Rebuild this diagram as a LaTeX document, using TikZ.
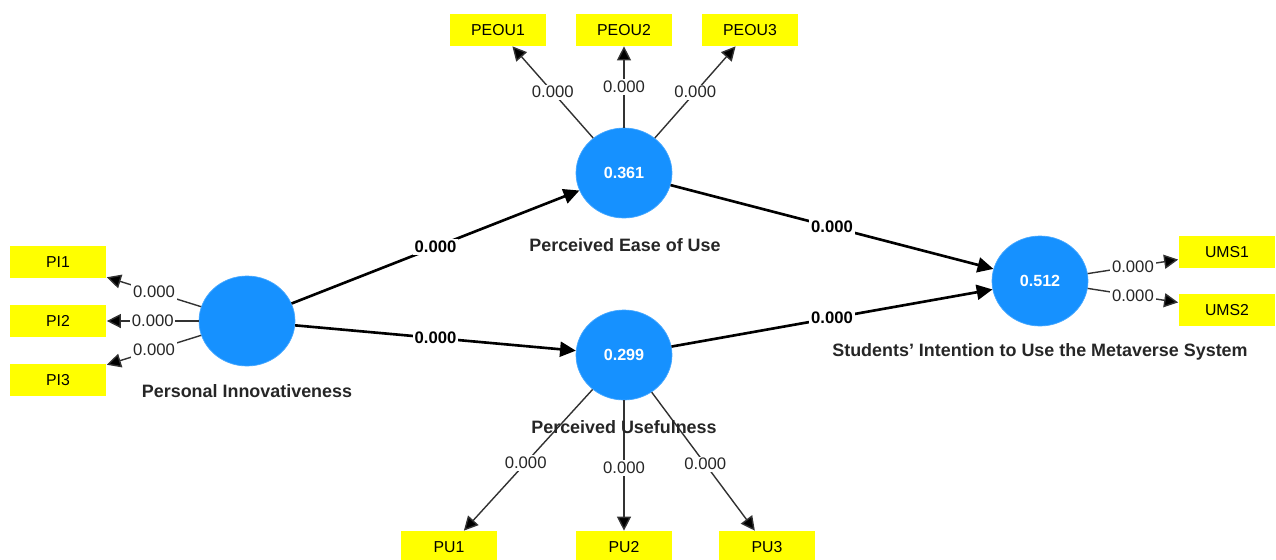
\documentclass[tikz,border=0pt]{standalone}
\usepackage{fontspec}
\setmainfont{Liberation Sans}
\usepackage{tikz}
\usetikzlibrary{
  shapes.geometric,
  arrows.meta,
  positioning
}
\definecolor{plsblue}{RGB}{22,145,255}
\definecolor{plsyellow}{RGB}{255,255,0}
\definecolor{plsgray}{RGB}{50,50,50}
\tikzset{
  latent/.style={
    ellipse, fill=plsblue, draw=plsblue!80!white, thin,
    minimum width=1.92cm, minimum height=1.8cm, inner sep=0pt,
    text=white, font=\fontsize{9.2}{10}\selectfont\bfseries
  },
  indicator/.style={
    rectangle, fill=plsyellow, minimum width=1.94cm,
    minimum height=0.64cm, inner sep=0pt,
    font=\fontsize{9}{10}\selectfont
  },
  loading/.style={-{Triangle[length=8pt,width=8pt,fill=black]}, line width=0.8pt, plsgray},
  struct/.style={-{Triangle[length=9pt,width=8.5pt]}, line width=1.5pt, black},
  lval/.style={fill=white, inner sep=1pt, text=black!85,
               font=\fontsize{9.5}{10}\selectfont},
  pval/.style={fill=white, inner sep=1pt, text=black,
               font=\fontsize{9.5}{10}\selectfont\bfseries},
  cname/.style={font=\fontsize{10.2}{12}\selectfont\bfseries, text=black!85}
}

\begin{document}
\begin{tikzpicture}[x=0.02cm, y=-0.02cm]
\useasboundingbox (0,0) rectangle (1276,559);

% constructs
\node[latent] (pi)   at (247,321)  {};
\node[latent] (peou) at (624,173)  {0.361};
\node[latent] (pu)   at (624,355)  {0.299};
\node[latent] (ums)  at (1040,281) {0.512};

\node[cname] at (247,391)  {Personal Innovativeness};
\node[cname] at (625,245)  {Perceived Ease of Use};
\node[cname] at (1040,352) {Students’ Intention to Use the Metaverse System};

% indicators
\node[indicator] (pi1)   at (58,262)   {PI1};
\node[indicator] (pi2)   at (58,321)   {PI2};
\node[indicator] (pi3)   at (58,380)   {PI3};
\node[indicator] (peou1) at (498,30)   {PEOU1};
\node[indicator] (peou2) at (624,30)   {PEOU2};
\node[indicator] (peou3) at (750,30)   {PEOU3};
\node[indicator] (pu1)   at (449,547)  {PU1};
\node[indicator] (pu2)   at (624,547)  {PU2};
\node[indicator] (pu3)   at (767,547)  {PU3};
\node[indicator] (ums1)  at (1227,252) {UMS1};
\node[indicator] (ums2)  at (1227,310) {UMS2};

% outer loadings
\draw[loading] (pi)   -- node[lval]{0.000} (pi1);
\draw[loading] (pi)   -- node[lval]{0.000} (pi2);
\draw[loading] (pi)   -- node[lval]{0.000} (pi3);
\draw[loading] (peou) -- node[lval]{0.000} (peou1);
\draw[loading] (peou) -- node[lval]{0.000} (peou2);
\draw[loading] (peou) -- node[lval]{0.000} (peou3);
\draw[loading] (pu)   -- node[lval,pos=0.52]{0.000} (pu1);
\draw[loading] (pu)   -- node[lval,pos=0.52]{0.000} (pu2);
\draw[loading] (pu)   -- node[lval,pos=0.52]{0.000} (pu3);
\draw[loading] (ums)  -- node[lval]{0.000} (ums1);
\draw[loading] (ums)  -- node[lval]{0.000} (ums2);

\node[cname] at (624,427) {Perceived Usefulness};

% path coefficients
\draw[struct] (pi)   -- node[pval]{0.000} (peou);
\draw[struct] (pi)   -- node[pval]{0.000} (pu);
\draw[struct] (peou) -- node[pval]{0.000} (ums);
\draw[struct] (pu)   -- node[pval]{0.000} (ums);
\end{tikzpicture}
\end{document}
